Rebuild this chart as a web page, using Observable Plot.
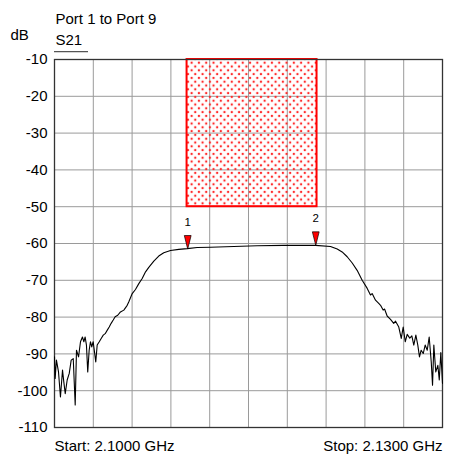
<!DOCTYPE html>
<html>
<head>
<meta charset="utf-8">
<script src="https://cdn.jsdelivr.net/npm/d3@7"></script>
<script src="https://cdn.jsdelivr.net/npm/@observablehq/plot@0.6"></script>
<style>
  html, body { margin: 0; padding: 0; background: #fff; }
</style>
</head>
<body>
<div id="chart"></div>
<script>
// Trace S21 (frequency in MHz, magnitude in dB)
const freqMHz = [
  2100.00, 2100.05, 2100.15, 2100.31, 2100.46, 2100.62, 2100.72, 2100.83, 2100.98, 2101.14,
  2101.29, 2101.45, 2101.60, 2101.70, 2101.86, 2102.01, 2102.16, 2102.27, 2102.37, 2102.47,
  2102.57, 2102.68, 2102.78, 2102.88, 2102.99, 2103.09, 2103.19, 2103.30, 2103.46, 2103.61,
  2103.77, 2103.92, 2104.07, 2104.23, 2104.38, 2104.54, 2104.69, 2104.89, 2105.10, 2105.36,
  2105.62, 2105.74, 2106.01, 2106.26, 2106.52, 2106.78, 2107.04, 2107.29, 2107.68, 2108.06,
  2108.45, 2108.97, 2109.61, 2110.26, 2111.03, 2112.06, 2113.86, 2115.67, 2117.73, 2120.18,
  2121.34, 2121.86, 2122.24, 2122.63, 2123.02, 2123.40, 2123.79, 2124.18, 2124.43, 2124.56,
  2124.82, 2125.07, 2125.21, 2125.41, 2125.52, 2125.72, 2125.98, 2126.23, 2126.37, 2126.62,
  2126.81, 2126.96, 2127.12, 2127.27, 2127.47, 2127.63, 2127.78, 2127.94, 2128.09, 2128.22,
  2128.35, 2128.51, 2128.66, 2128.82, 2128.97, 2129.13, 2129.23, 2129.33, 2129.48, 2129.64,
  2129.75, 2129.87, 2130.00
];
const s21dB = [
  -90.8, -96.7, -91.7, -94.9, -101.7, -94.4, -97.6, -100.8, -97.1, -95.3,
  -91.7, -91.3, -103.9, -89.0, -90.8, -86.7, -85.4, -86.7, -85.4, -87.6,
  -94.9, -89.0, -86.7, -88.1, -86.7, -89.4, -92.2, -87.6, -86.7, -85.8,
  -84.9, -84.5, -83.6, -82.7, -81.7, -80.8, -79.9, -79.5, -78.6, -78.1,
  -76.8, -75.9, -73.6, -72.5, -70.9, -69.5, -67.7, -66.5, -64.8, -63.4,
  -62.5, -61.9, -61.6, -61.4, -61.1, -61.0, -60.8, -60.6, -60.5, -60.5,
  -60.8, -61.5, -62.3, -63.6, -65.3, -67.3, -70.0, -72.2, -74.0, -73.6,
  -75.4, -76.3, -76.8, -78.1, -77.8, -79.7, -80.6, -81.7, -81.1, -82.7,
  -85.8, -82.7, -86.7, -84.7, -85.7, -85.1, -87.6, -84.9, -87.6, -90.8,
  -89.0, -89.9, -87.6, -89.0, -85.4, -92.2, -98.5, -87.6, -94.9, -93.1,
  -97.1, -89.6, -98.0
];

// Markers
const markerNames = ["1", "2"];
const markerFreq = [2110.3, 2120.2];
const markerdB = [-61.5, -60.5];

// Limit box (MHz / dB)
const limitFreq = [2110.25, 2120.3];
const limitdB = [-50, -10];

// Axes
const xDomain = [2100, 2130];
const xGrid = [2100, 2103, 2106, 2109, 2112, 2115, 2118, 2121, 2124, 2127, 2130];
const yTicks = [-110, -100, -90, -80, -70, -60, -50, -40, -30, -20, -10];
const yTickLabels = ["-110", "-100", "-90", "-80", "-70", "-60", "-50", "-40", "-30", "-20", "-10"];

// Texts
const titleText = "Port 1 to Port 9";
const unitText = "dB";
const traceName = "S21";
const startText = "Start: 2.1000 GHz";
const stopText = "Stop: 2.1300 GHz";

const trace = freqMHz.map((f, i) => ({f, db: s21dB[i]}));
const markers = markerNames.map((n, i) => ({n, f: markerFreq[i], db: markerdB[i]}));
const limitBox = [{x1: limitFreq[0], x2: limitFreq[1], y1: limitdB[0], y2: limitdB[1]}];

const markerSymbol = {
  draw(ctx) {
    ctx.moveTo(-3.4, -13.5);
    ctx.lineTo(3.4, -13.5);
    ctx.lineTo(0, 0);
    ctx.closePath();
  }
};

const font = "'Liberation Sans', Arial, Helvetica, sans-serif";

const plot = Plot.plot({
  width: 459,
  height: 458,
  marginLeft: 54,
  marginRight: 17,
  marginTop: 59,
  marginBottom: 31,
  x: {domain: xDomain, axis: null},
  y: {domain: [-110, -10], axis: null},
  style: {fontFamily: font, fontSize: "15px", color: "#000", background: "#fff", overflow: "visible"},
  marks: [
    Plot.gridX(xGrid, {stroke: "#9a9a9a", strokeOpacity: 1, strokeWidth: 1}),
    Plot.gridY(yTicks, {stroke: "#9a9a9a", strokeOpacity: 1, strokeWidth: 1}),
    Plot.rect(limitBox, {x1: "x1", x2: "x2", y1: "y1", y2: "y2", fill: "url(#dots)", stroke: "#ff0000", strokeWidth: 2}),
    Plot.frame({stroke: "#333", strokeWidth: 1.3}),
    Plot.axisY(yTicks, {tickSize: 0, tickPadding: 7, fontSize: 15, fill: "#000",
      tickFormat: d => yTickLabels[yTicks.indexOf(d)]}),
    Plot.line(trace, {x: "f", y: "db", stroke: "#000", strokeWidth: 1.1}),
    Plot.dot(markers, {x: "f", y: "db", symbol: markerSymbol, r: 4, fill: "#ff0000", stroke: "#000", strokeWidth: 0.7}),
    Plot.text(markers, {x: "f", y: "db", text: "n", dy: -23.5, lineAnchor: "bottom", fontSize: 11.5, fill: "#000"}),
    Plot.text([titleText], {text: d => d, frameAnchor: "top-left", dx: 1, dy: -35.7, lineAnchor: "bottom", textAnchor: "start", fontSize: 15}),
    Plot.text([unitText], {text: d => d, frameAnchor: "top-left", dx: -44, dy: -19.3, lineAnchor: "bottom", textAnchor: "start", fontSize: 15}),
    Plot.text([traceName], {text: d => d, frameAnchor: "top-left", dx: 1, dy: -14.3, lineAnchor: "bottom", textAnchor: "start", fontSize: 15}),
    Plot.text([startText], {text: d => d, frameAnchor: "bottom-left", dx: 0, dy: 23.5, lineAnchor: "bottom", textAnchor: "start", fontSize: 15}),
    Plot.text([stopText], {text: d => d, frameAnchor: "bottom-right", dx: 0, dy: 23.5, lineAnchor: "bottom", textAnchor: "end", fontSize: 15})
  ]
});

// dotted fill pattern for the limit box
const svg = d3.select(plot);
const defs = svg.insert("defs", ":first-child");
const pat = defs.append("pattern")
  .attr("id", "dots")
  .attr("patternUnits", "userSpaceOnUse")
  .attr("width", 7.3)
  .attr("height", 7.6);
pat.append("circle").attr("cx", 1.8).attr("cy", 1.9).attr("r", 1.2).attr("fill", "#ff2a2a");
pat.append("circle").attr("cx", 5.45).attr("cy", 5.7).attr("r", 1.2).attr("fill", "#ff2a2a");

// underline below the trace name
svg.append("line")
  .attr("x1", 54).attr("x2", 88)
  .attr("y1", 51.7).attr("y2", 51.7)
  .attr("stroke", "#555").attr("stroke-width", 1.3);

document.getElementById("chart").appendChild(plot);
</script>
</body>
</html>
